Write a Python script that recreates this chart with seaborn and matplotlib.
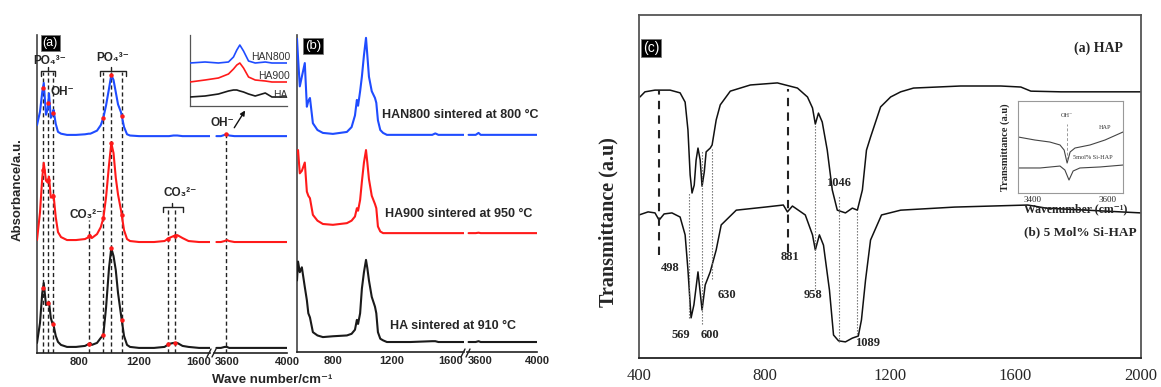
import numpy as np
import matplotlib
matplotlib.use("Agg")
import matplotlib.pyplot as plt
import seaborn as sns
from matplotlib.lines import Line2D

sns.set_style("white")
SANS = ["Liberation Sans", "DejaVu Sans"]
SERIF = ["Liberation Serif", "DejaVu Serif"]
plt.rcParams["font.family"] = SANS

BLUE, RED, BLACK = "#1f4cff", "#ff1a1a", "#1a1a1a"
COLORS = [BLUE, RED, BLACK]

# ---------------- data: panel (a), normalised absorbance ----------------
wn_a = [520, 540, 555, 565, 580, 592, 600, 612, 622, 630, 645, 660, 680, 720,
        780, 840, 865, 875, 885, 920, 945, 962, 980, 1000, 1015, 1030, 1045,
        1060, 1080, 1100, 1120, 1140, 1200, 1300, 1370, 1400, 1430, 1455, 1490,
        1530, 1600, 1680]
han800_a = [0.18, 0.40, 0.72, 0.87, 0.35, 0.45, 0.70, 0.30, 0.35, 0.43, 0.20,
            0.07, 0.04, 0.02, 0.02, 0.03, 0.04, 0.04, 0.05, 0.09, 0.18, 0.30,
            0.50, 0.78, 1.00, 0.92, 0.72, 0.52, 0.39, 0.15, 0.03, 0.01, 0.0,
            0.0, 0.0, 0.0, 0.01, 0.01, 0.0, 0.0, 0.0, 0.0]
ha900_a = [0.02, 0.30, 0.65, 0.80, 0.62, 0.60, 0.66, 0.45, 0.45, 0.48, 0.25,
           0.10, 0.05, 0.02, 0.02, 0.03, 0.05, 0.07, 0.04, 0.08, 0.15, 0.24,
           0.45, 0.78, 1.00, 0.90, 0.65, 0.48, 0.32, 0.12, 0.03, 0.01, 0.0,
           0.0, 0.01, 0.04, 0.06, 0.07, 0.04, 0.01, 0.0, 0.0]
ha_a = [0.05, 0.25, 0.55, 0.65, 0.43, 0.44, 0.46, 0.30, 0.25, 0.23, 0.12,
        0.06, 0.03, 0.01, 0.01, 0.02, 0.04, 0.05, 0.03, 0.05, 0.10, 0.13,
        0.40, 0.80, 1.00, 0.92, 0.78, 0.55, 0.33, 0.12, 0.03, 0.01, 0.0,
        0.0, 0.01, 0.04, 0.05, 0.05, 0.02, 0.01, 0.0, 0.0]
wn_a2 = [3530, 3560, 3585, 3600, 3615, 3650, 3800, 4000]
han800_a2 = [0, 0, 0.02, 0.03, 0.01, 0, 0, 0]
ha900_a2 = [0, 0, 0.01, 0.02, 0.01, 0, 0, 0]
ha_a2 = [0, 0, 0.01, 0.01, 0, 0, 0, 0]

# inset of (a): OH- region
wn_ins = [3455, 3500, 3540, 3570, 3585, 3595, 3604, 3615, 3630, 3650, 3680, 3700, 3745]
han800_ins = [0, 0.01, 0, 0.01, 0.06, 0.13, 0.18, 0.12, 0.02, 0.0, 0.01, 0.0, 0.0]
ha900_ins = [0, 0.02, 0.04, 0.08, 0.13, 0.17, 0.19, 0.14, 0.05, 0.02, 0.01, 0.0, 0.0]
ha_ins = [0, 0.01, 0.03, 0.06, 0.07, 0.07, 0.06, 0.05, 0.03, 0.01, 0.04, 0.0, 0.0]

# ---------------- data: panel (b) ----------------
wn_b = [556, 563, 575, 589, 609, 623, 633, 644, 664, 695, 732, 800, 895, 927,
        950, 963, 971, 985, 997, 1011, 1025, 1034, 1045, 1064, 1086, 1095, 1106,
        1122, 1141, 1167, 1327, 1475, 1496, 1517, 1691]
han800_b = [0.99, 0.80, 0.50, 0.60, 0.74, 0.29, 0.35, 0.38, 0.12, 0.05, 0.02,
            0.01, 0.03, 0.08, 0.20, 0.36, 0.30, 0.45, 0.60, 0.82, 1.00, 0.82,
            0.60, 0.45, 0.38, 0.33, 0.15, 0.05, 0.02, 0.0, 0.0, 0.0, 0.015, 0.0, 0.0]
ha900_b = [0.95, 1.00, 0.72, 0.75, 0.85, 0.50, 0.45, 0.42, 0.22, 0.15, 0.11,
           0.10, 0.12, 0.15, 0.20, 0.30, 0.27, 0.40, 0.62, 0.85, 1.00, 0.85,
           0.65, 0.45, 0.35, 0.30, 0.08, 0.02, 0.0, 0.0, 0.0, 0.0, 0.0, 0.0, 0.0]
ha_b = [0.75, 0.98, 0.85, 0.91, 0.67, 0.51, 0.35, 0.30, 0.12, 0.08, 0.06,
        0.07, 0.08, 0.10, 0.15, 0.27, 0.22, 0.35, 0.65, 0.85, 1.00, 0.90,
        0.75, 0.55, 0.43, 0.35, 0.12, 0.04, 0.02, 0.0, 0.0, 0.01, 0.01, 0.0, 0.0]
wn_b2 = [3520, 3570, 3590, 3605, 3650, 4000]
han800_b2 = [0, 0, 0.02, 0, 0, 0]
ha900_b2 = [0, 0, 0.005, 0, 0, 0]
ha_b2 = [0, 0, 0.01, 0, 0, 0]

# ---------------- data: panel (c), transmittance ----------------
wn_hap = [403, 419, 451, 499, 531, 547, 556, 563, 569, 576, 582, 588, 595, 601,
          608, 614, 627, 633, 646, 659, 691, 755, 841, 905, 937, 953, 962, 972,
          984, 1000, 1016, 1032, 1058, 1080, 1096, 1112, 1125, 1138, 1170, 1202,
          1234, 1275, 1425, 1553, 1617, 1649, 1745, 2000]
t_hap = [0.761, 0.776, 0.781, 0.781, 0.773, 0.746, 0.665, 0.534, 0.481, 0.504,
         0.577, 0.612, 0.577, 0.501, 0.542, 0.601, 0.612, 0.621, 0.694, 0.738,
         0.778, 0.796, 0.802, 0.787, 0.761, 0.729, 0.682, 0.714, 0.688, 0.606,
         0.490, 0.431, 0.423, 0.437, 0.431, 0.490, 0.606, 0.644, 0.732, 0.761,
         0.776, 0.787, 0.793, 0.793, 0.790, 0.778, 0.776, 0.776]
wn_si = [400, 429, 451, 464, 480, 505, 531, 547, 556, 566, 575, 588, 601, 611,
         627, 646, 662, 710, 802, 860, 873, 889, 930, 953, 962, 975, 988, 1007,
         1020, 1036, 1058, 1080, 1099, 1109, 1122, 1138, 1173, 1234, 1406, 1639,
         1697, 2000]
t_si = [0.417, 0.426, 0.423, 0.402, 0.420, 0.423, 0.411, 0.359, 0.257, 0.117,
        0.155, 0.251, 0.140, 0.213, 0.251, 0.315, 0.388, 0.431, 0.440, 0.446,
        0.426, 0.443, 0.417, 0.359, 0.315, 0.359, 0.329, 0.198, 0.067, 0.050,
        0.047, 0.058, 0.064, 0.111, 0.227, 0.344, 0.417, 0.431, 0.440, 0.446,
        0.437, 0.423]
peak_labels_c = ["498", "569", "600", "630", "881", "958", "1046", "1089"]

# inset of (c)
wn_ic_hap = [3360, 3405, 3445, 3472, 3483, 3491, 3499, 3512, 3552, 3592, 3640]
t_ic_hap = [0.609, 0.576, 0.554, 0.522, 0.467, 0.326, 0.446, 0.489, 0.522, 0.576, 0.663]
wn_ic_si = [3360, 3419, 3472, 3485, 3496, 3507, 3525, 3579, 3640]
t_ic_si = [0.272, 0.272, 0.293, 0.250, 0.141, 0.239, 0.272, 0.283, 0.304]

# ---------------- figure ----------------
W, H = 1161, 387
fig = plt.figure(figsize=(W / 100, H / 100), dpi=100)


def box(x0, y0, x1, y1):
    return [x0 / W, 1 - y1 / H, (x1 - x0) / W, (y1 - y0) / H]


def seg_axes(rect, xlim, ticks, labels, left_spine):
    ax = fig.add_axes(rect)
    ax.set_xlim(xlim)
    ax.set_ylim(0, 1)
    ax.patch.set_alpha(0)
    for s in ["top", "right"]:
        ax.spines[s].set_visible(False)
    ax.spines["left"].set_visible(left_spine)
    ax.spines["left"].set_color("#444")
    ax.spines["bottom"].set_color("#222")
    ax.spines["left"].set_linewidth(1.2)
    ax.spines["bottom"].set_linewidth(1.2)
    ax.set_yticks([])
    ax.set_xticks(ticks)
    ax.set_xticklabels(labels)
    ax.tick_params(axis="x", direction="in", length=3, width=1, labelsize=8, pad=3)
    for t in ax.get_xticklabels():
        t.set_fontweight("bold")
    return ax


def draw(ax, wn, series, offs, scales, lw=1.5):
    for vals, col, off, sc in zip(series, COLORS, offs, scales):
        sns.lineplot(x=np.asarray(wn, float), y=off + sc * np.asarray(vals, float),
                     ax=ax, color=col, lw=lw, estimator=None, sort=False, zorder=3)
    ax.set_xlabel("")
    ax.set_ylabel("")


def brk(x0):
    for dx in (0, 5):
        fig.add_artist(Line2D([(x0 + dx) / W, (x0 + dx + 4) / W],
                              [1 - 357 / H, 1 - 349 / H], color="#222", lw=1))


DASH = (0, (3, 2))

# ----- panel (a) -----
A_OFF, A_SC = [0.682, 0.349, 0.016], [0.192, 0.311, 0.314]
ax_al = seg_axes(box(37, 35, 210, 353), (520, 1673),
                 [600, 800, 1000, 1200, 1400, 1600], ["", "800", "", "1200", "", "1600"], True)
ax_ar = seg_axes(box(214, 35, 287, 353), (3514, 4000),
                 [3600, 3800, 4000], ["3600", "", "4000"], False)
draw(ax_al, wn_a, [han800_a, ha900_a, ha_a], A_OFF, A_SC)
draw(ax_ar, wn_a2, [han800_a2, ha900_a2, ha_a2], A_OFF, A_SC)

dash_a = [560, 595, 625, 868, 962, 1015, 1085, 1395, 1440]
dash_top = [0.884, 0.884, 0.884, 0.418, 0.884, 0.884, 0.884, 0.456, 0.456]
for x, top in zip(dash_a, dash_top):
    ax_al.plot([x, x], [0, top], color="#222", lw=1, ls=DASH, zorder=2)
    for vals, off, sc in zip([han800_a, ha900_a, ha_a], A_OFF, A_SC):
        yv = off + sc * np.interp(x, wn_a, vals)
        if yv < top and vals[np.argmin(np.abs(np.array(wn_a) - x))] > 0.02:
            ax_al.plot([x], [yv], "o", color=RED, ms=2.2, zorder=4)
ax_ar.plot([3595, 3595], [0, 0.692], color="#222", lw=1, ls=DASH, zorder=2)
ax_ar.plot([3595], [A_OFF[0] + 0.03 * A_SC[0]], "o", color=RED, ms=2.2, zorder=4)

# brackets
for (x0, x1, xm, yb) in [(545, 640, 595, 0.887), (940, 1113, 1015, 0.887), (1360, 1490, 1420, 0.459)]:
    ax_al.plot([x0, x0, x1, x1], [yb - 0.015, yb, yb, yb - 0.015], color="#222", lw=1, clip_on=False)
    ax_al.plot([xm, xm], [yb, yb + 0.012], color="#222", lw=1, clip_on=False)

tkw = dict(fontsize=8.5, fontweight="bold", ha="center", va="center", family=SANS)
ax_al.text(607, 0.918, "PO\u2084\u00b3\u207b", clip_on=False, **tkw)
ax_al.text(690, 0.82, "OH\u207b", clip_on=False, **tkw)
ax_al.text(1027, 0.928, "PO\u2084\u00b3\u207b", clip_on=False, **tkw)
ax_al.text(847, 0.434, "CO\u2083\u00b2\u207b", clip_on=False, **tkw)
ax_al.text(1473, 0.503, "CO\u2083\u00b2\u207b", clip_on=False, **tkw)
ax_ar.text(3567, 0.723, "OH\u207b", clip_on=False, **tkw)
ax_ar.annotate("", xy=(3731, 0.770), xytext=(3639, 0.701), annotation_clip=False,
               arrowprops=dict(arrowstyle="-|>", lw=1, color="#111", mutation_scale=7))
brk(207)

# inset (a)
ax_ia = fig.add_axes(box(190, 35, 287, 106))
ax_ia.set_xlim(3455, 3745)
ax_ia.set_ylim(0, 0.71)
ax_ia.patch.set_alpha(0)
for s in ["top", "right"]:
    ax_ia.spines[s].set_visible(False)
for s in ["left", "bottom"]:
    ax_ia.spines[s].set_color("#555")
    ax_ia.spines[s].set_linewidth(0.9)
ax_ia.set_yticks([])
ax_ia.set_xticks([3500, 3550, 3600, 3650, 3700])
ax_ia.set_xticklabels([])
ax_ia.tick_params(axis="x", direction="in", length=2, width=0.7, color="#555")
draw(ax_ia, wn_ins, [han800_ins, ha900_ins, ha_ins], [0.43, 0.24, 0.09], [1, 1, 1], lw=1.2)
ikw = dict(fontsize=7.5, ha="right", va="center", color="#333", transform=ax_ia.transAxes, family=SANS)
ax_ia.text(1.03, 0.69, "HAN800", **ikw)
ax_ia.text(1.03, 0.42, "HA900", **ikw)
ax_ia.text(1.0, 0.155, "HA", **ikw)

# ----- panel (b) -----
B_OFF, B_SC = [0.685, 0.375, 0.0315], [0.306, 0.262, 0.259]
ax_bl = seg_axes(box(297, 35, 464, 352), (556, 1691),
                 [600, 800, 1000, 1200, 1400, 1600], ["", "800", "", "1200", "", "1600"], True)
ax_br = seg_axes(box(467, 35, 537, 352), (3509, 4000),
                 [3600, 3800, 4000], ["3600", "", "4000"], False)
draw(ax_bl, wn_b, [han800_b, ha900_b, ha_b], B_OFF, B_SC)
draw(ax_br, wn_b2, [han800_b2, ha900_b2, ha_b2], B_OFF, B_SC)
brk(461)
bkw = dict(fontsize=9, fontweight="bold", ha="left", va="center", family=SANS)
fig.text(382 / W, 1 - 115 / H, "HAN800 sintered at 800 \u00b0C", **bkw)
fig.text(385 / W, 1 - 214 / H, "HA900 sintered at 950 \u00b0C", **bkw)
fig.text(390 / W, 1 - 326 / H, "HA sintered at 910 \u00b0C", **bkw)

fig.text(18 / W, 1 - 190 / H, "Absorbance/a.u.", rotation=90, fontsize=9.5,
         fontweight="bold", ha="center", va="center", family=SANS)
fig.text(272 / W, 1 - 380 / H, "Wave number/cm\u207b\u00b9", fontsize=9.5,
         fontweight="bold", ha="center", va="center", family=SANS)

lab = dict(color="white", ha="center", va="center", family=SANS,
           bbox=dict(boxstyle="square,pad=0.15", fc="black", ec="#777", lw=0.6))
fig.text(50 / W, 1 - 43 / H, "(a)", fontsize=9, **lab)
fig.text(313 / W, 1 - 46 / H, "(b)", fontsize=9.5, **lab)

# ----- panel (c) -----
ax_c = fig.add_axes(box(639, 15, 1141, 358))
ax_c.set_xlim(400, 2000)
ax_c.set_ylim(0, 1)
for s in ax_c.spines.values():
    s.set_color("#555")
    s.set_linewidth(1.3)
ax_c.spines["bottom"].set_color("#222")
ax_c.set_yticks([])
ax_c.set_xticks(np.arange(400, 2001, 400))
ax_c.set_xticks(np.arange(600, 2000, 400), minor=True)
ax_c.tick_params(axis="x", which="both", direction="in", length=5, width=1.2,
                 labelsize=12, pad=7)
for t in ax_c.get_xticklabels():
    t.set_family(SERIF)
sns.lineplot(x=np.asarray(wn_hap, float), y=np.asarray(t_hap), ax=ax_c, color="#111",
             lw=1.1, estimator=None, sort=False)
sns.lineplot(x=np.asarray(wn_si, float), y=np.asarray(t_si), ax=ax_c, color="#111",
             lw=1.1, estimator=None, sort=False)
ax_c.set_xlabel("")
ax_c.set_ylabel("")

for x, y0, y1 in [(464, 0.30, 0.78), (876, 0.31, 0.785)]:
    ax_c.plot([x, x], [y0, y1], color="#222", lw=1.5, ls=(0, (4, 3)))
for x, y0, y1 in zip([560, 601, 633, 962, 1039, 1096],
                     [0.117, 0.10, 0.23, 0.20, 0.047, 0.07],
                     [0.48, 0.606, 0.61, 0.68, 0.475, 0.43]):
    ax_c.plot([x, x], [y0, y1], color="#666", lw=0.8, ls=(0, (1.2, 1.5)))

ckw = dict(fontsize=9, fontweight="bold", ha="center", va="center", family=SERIF)
for txt, x, y in zip(peak_labels_c,
                     [499, 534, 627, 681, 882, 956, 1036, 1128],
                     [0.262, 0.067, 0.067, 0.184, 0.294, 0.184, 0.510, 0.044]):
    ax_c.text(x, y, txt, **ckw)
ax_c.text(1942, 0.904, "(a) HAP", fontsize=10, fontweight="bold", ha="right",
          va="center", family=SERIF)
ax_c.text(1987, 0.367, "(b) 5 Mol% Si-HAP", fontsize=9.5, fontweight="bold",
          ha="right", va="center", family=SERIF)
fig.text(608 / W, 1 - 222 / H, "Transmittance (a.u)", rotation=90, fontsize=14.5,
         fontweight="bold", ha="center", va="center", family=SERIF)
fig.text(651 / W, 1 - 48 / H, "(c)", fontsize=10, **lab)

# inset (c)
ax_ic = fig.add_axes(box(1018, 101, 1123, 193))
ax_ic.set_xlim(3360, 3640)
ax_ic.set_ylim(0, 1)
for s in ax_ic.spines.values():
    s.set_color("#999")
    s.set_linewidth(0.8)
ax_ic.set_yticks([])
ax_ic.set_xticks([3400, 3600])
ax_ic.set_xticks([3500], minor=True)
ax_ic.tick_params(axis="x", which="both", direction="in", length=2, width=0.6,
                  labelsize=6.5, pad=2, color="#777")
for t in ax_ic.get_xticklabels():
    t.set_family(SERIF)
sns.lineplot(x=np.asarray(wn_ic_hap, float), y=np.asarray(t_ic_hap), ax=ax_ic,
             color="#444", lw=0.8, estimator=None, sort=False)
sns.lineplot(x=np.asarray(wn_ic_si, float), y=np.asarray(t_ic_si), ax=ax_ic,
             color="#444", lw=0.8, estimator=None, sort=False)
ax_ic.set_xlabel("")
ax_ic.set_ylabel("")
ax_ic.plot([3491, 3491], [0.36, 0.75], color="#999", lw=0.7, ls=(0, (3, 2)))
skw = dict(fontsize=4.5, ha="center", va="center", family=SERIF, color="#333")
ax_ic.text(3491, 0.837, "OH\u207b", **skw)
ax_ic.text(3592, 0.707, "HAP", **skw)
ax_ic.text(3560, 0.39, "5mol% Si-HAP", **skw)
fig.text(1005 / W, 1 - 147 / H, "Transmittance (a.u)", rotation=90, fontsize=7.5,
         fontweight="bold", ha="center", va="center", family=SERIF)
fig.text(1076 / W, 1 - 209 / H, "Wavenumber (cm\u207b\u00b9)", fontsize=8.5,
         fontweight="bold", ha="center", va="center", family=SERIF)

fig.savefig("out.png", dpi=100)
